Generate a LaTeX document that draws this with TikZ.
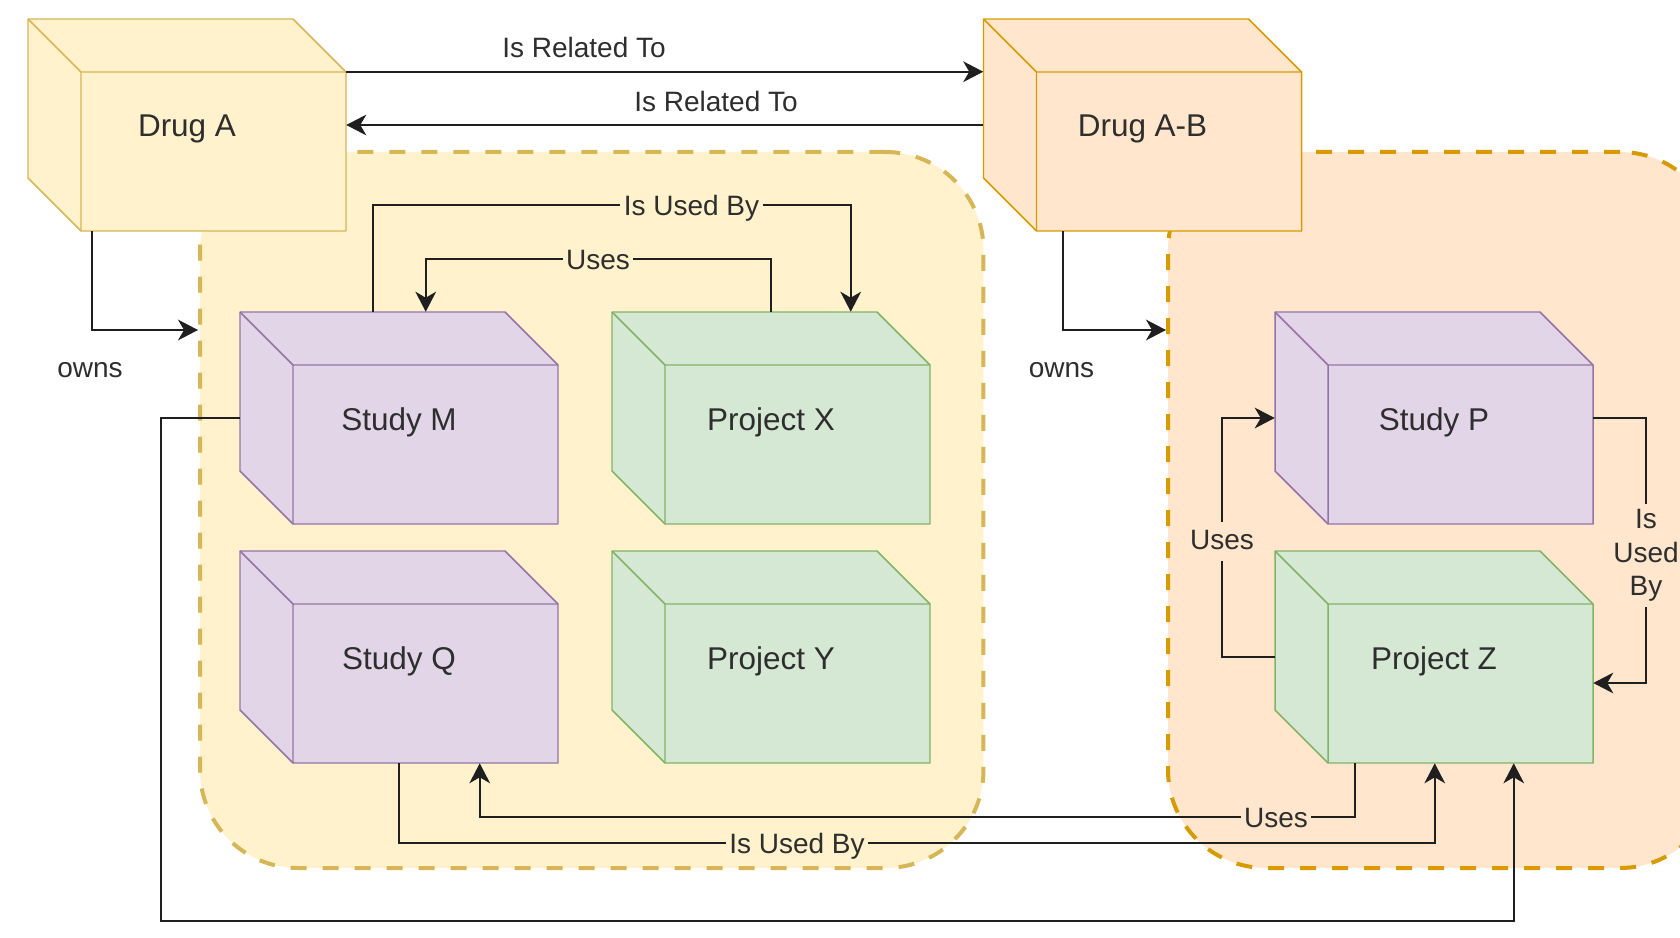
\documentclass[tikz,border=0pt]{standalone}
\usepackage{fontspec}
\setmainfont{Liberation Sans}
\usetikzlibrary{arrows.meta,calc}

\definecolor{ylwFill}{HTML}{FFF2CC}
\definecolor{ylwLine}{HTML}{D6B656}
\definecolor{orgFill}{HTML}{FFE6CC}
\definecolor{orgLine}{HTML}{D79B00}
\definecolor{prpFill}{HTML}{E1D5E7}
\definecolor{prpLine}{HTML}{9673A6}
\definecolor{grnFill}{HTML}{D5E8D4}
\definecolor{grnLine}{HTML}{82B366}
\definecolor{txt}{HTML}{2E2E2E}

\tikzset{
  % 3D box: front face plus top and left faces, 53px deep
  pics/cubeshape/.style n args={2}{code={
    \filldraw[fill=#1, draw=#2, line width=1.1pt, line join=round]
      (-159,-106) -- (106,-106) -- (159,-53) -- (159,106) -- (-106,106) -- (-159,53) -- cycle;
    \draw[draw=#2, line width=1.1pt, line join=round]
      (-159,-106) -- (-106,-53) -- (159,-53) (-106,-53) -- (-106,106);
  }},
  boxframe/.style={minimum width=238.5pt, minimum height=159pt, inner sep=0pt},
  boxtitle/.style={font=\fontsize{23.6}{28}\selectfont, text=txt, inner sep=0pt, yshift=-3pt},
  group/.style={draw=#1, line width=3pt, dash pattern=on 12pt off 12pt,
    rounded corners=73.5pt, inner sep=0pt, minimum height=537pt},
  conn/.style={line width=1.7pt, draw=black!88, line join=miter},
  tip/.style={-{Stealth[length=15pt, width=15.5pt, inset=4.5pt]}},
  elabel/.style={font=\fontsize{21}{25.2}\selectfont, text=txt,
    inner xsep=2.5pt, inner ysep=0pt, text height=15pt, text depth=4.2pt,
    yshift=-2.2pt},
}

\begin{document}
\begin{tikzpicture}[x=0.75pt, y=-0.75pt]
\useasboundingbox (0,0) rectangle (1680,938);
\clip (0,0) rectangle (1680,938);

% ownership groups
\node[group=ylwLine, fill=ylwFill, minimum width=587.6pt] (grpA) at (591.75,510) {};
\node[group=orgLine, fill=orgFill, minimum width=412.5pt] (grpB) at (1443,510) {};

% drugs
\pic at (187,125) {cubeshape={ylwFill}{ylwLine}};
\node[boxframe] (drugA) at (187,125) {};
\pic at (1142.5,125) {cubeshape={orgFill}{orgLine}};
\node[boxframe] (drugAB) at (1142.5,125) {};

% studies and projects
\pic at (399,418) {cubeshape={prpFill}{prpLine}};
\node[boxframe] (studyM) at (399,418) {};
\pic at (771,418) {cubeshape={grnFill}{grnLine}};
\node[boxframe] (projX) at (771,418) {};
\pic at (399,657) {cubeshape={prpFill}{prpLine}};
\node[boxframe] (studyQ) at (399,657) {};
\pic at (771,657) {cubeshape={grnFill}{grnLine}};
\node[boxframe] (projY) at (771,657) {};
\pic at (1434,418) {cubeshape={prpFill}{prpLine}};
\node[boxframe] (studyP) at (1434,418) {};
\pic at (1434,657) {cubeshape={grnFill}{grnLine}};
\node[boxframe] (projZ) at (1434,657) {};

% box titles, set a little below each box centre
\node[boxtitle] (tDrugA) at (drugA.center) {Drug A};
\node[boxtitle] (tDrugAB) at (drugAB.center) {Drug A-B};
\node[boxtitle] (tStudyM) at (studyM.center) {Study M};
\node[boxtitle] (tProjX) at (projX.center) {Project X};
\node[boxtitle] (tStudyQ) at (studyQ.center) {Study Q};
\node[boxtitle] (tProjY) at (projY.center) {Project Y};
\node[boxtitle] (tStudyP) at (studyP.center) {Study P};
\node[boxtitle] (tProjZ) at (projZ.center) {Project Z};

% connection points
\coordinate (aRel) at ($(drugA.north east)+(0,53)$);
\coordinate (aOwn) at ($(drugA.south west)+(64,0)$);
\coordinate (abOwn) at ($(drugAB.south west)+(79.5,0)$);
\coordinate (gA) at ($(grpA.north west)+(0,180)$);
\coordinate (gB) at ($(grpB.north west)+(0,180)$);
\coordinate (mTop) at ($(studyM.north west)+(133,0)$);
\coordinate (mIn) at ($(studyM.north west)+(186,0)$);
\coordinate (xIn) at ($(projX.north west)+(239,0)$);
\coordinate (qIn) at ($(studyQ.south west)+(240,0)$);
\coordinate (zOut) at ($(projZ.south west)+(80,0)$);
\coordinate (zInQ) at ($(projZ.south west)+(160,0)$);
\coordinate (zInM) at ($(projZ.south west)+(239,0)$);
\coordinate (zInP) at ($(projZ.east)+(0,26)$);

% drug relations
\draw[conn, tip] (aRel) -- (aRel -| drugAB.west);
\draw[conn, tip] (drugAB.west) -- (drugA.east);
\draw[conn, tip] (aOwn) |- (gA);
\draw[conn, tip] (abOwn) |- (gB);

% study / project relations
\draw[conn, tip] (mTop) -- ++(0,-107) -| (xIn);
\draw[conn, tip] (projX.north) -- ++(0,-53) -| (mIn);
\draw[conn, tip] (studyM.west) -- ++(-79,0) -- ++(0,503) -| (zInM);
\draw[conn, tip] (studyQ.south) -- ++(0,80) -| (zInQ);
\draw[conn, tip] (zOut) -- ++(0,54) -| (qIn);
\draw[conn, tip] (projZ.west) -- ++(-53,0) |- (studyP.west);
\draw[conn, tip] (studyP.east) -- ++(53,0) |- (zInP);

% connector labels
\node[elabel] (lRel1) at (584,47) {Is Related To};
\node[elabel] (lRel2) at (716,101) {Is Related To};
\node[elabel] (lOwnA) at (90,367.5) {owns};
\node[elabel] (lOwnB) at (1061.5,367.5) {owns};
\node[elabel, fill=ylwFill] (lMX) at (691.5,205) {Is Used By};
\node[elabel, fill=ylwFill] (lXM) at (598,259) {Uses};
\node[elabel, fill=ylwFill] (lQZ) at (797,843) {Is Used By};
\node[elabel, fill=orgFill] (lZQ) at (1276,817) {Uses};
\node[elabel, fill=orgFill, inner ysep=5pt] (lZP) at (1222,539) {Uses};
\node[elabel, fill=orgFill, align=center, inner ysep=4pt, text height=, text depth=, yshift=0.2pt] (lPZ) at (1646,553) {Is\\Used\\By};
\end{tikzpicture}
\end{document}
